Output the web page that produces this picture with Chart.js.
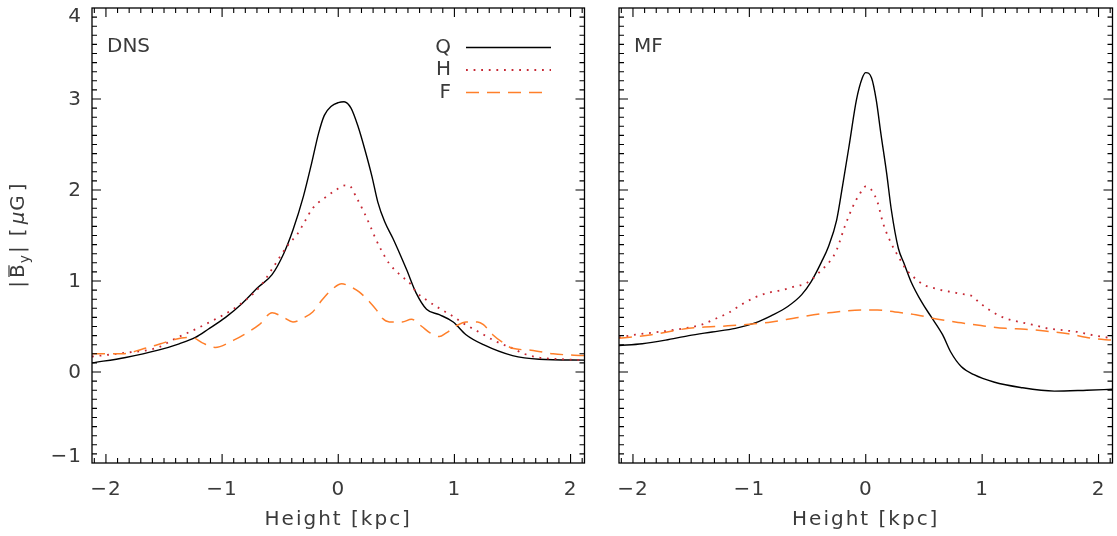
<!DOCTYPE html>
<html lang="en">
<head>
<meta charset="UTF-8">
<title>Mean field profiles: DNS and MF</title>
<script src="https://cdn.jsdelivr.net/npm/chart.js"></script>
<style>
    body { margin: 0; background: #ffffff; }
    #wrap { position: relative; width: 1117px; height: 536px; }
    canvas { position: absolute; top: 0; }
    #dns { left: 0; }
    #mf { left: 600px; }
</style>
</head>
<body>
<div id="wrap">
    <canvas id="dns" width="600" height="536"></canvas>
    <canvas id="mf" width="517" height="536"></canvas>
</div>
<script>
// axis ticks
const xTicks = [-2, -1, 0, 1, 2];
const yTicks = [-1, 0, 1, 2, 3, 4];

// DNS panel, height in kpc and |B_y| in microgauss
const dnsQx = [-2.12, -1.83, -1.55, -1.37, -1.23, -1.12, -0.97, -0.83, -0.69, -0.57, -0.47, -0.39, -0.30, -0.23, -0.17, -0.12, -0.06, 0.0, 0.05, 0.11, 0.17, 0.23, 0.29, 0.34, 0.40, 0.47, 0.54, 0.59, 0.67, 0.76, 0.87, 0.99, 1.10, 1.25, 1.50, 1.73, 2.12];
const dnsQy = [0.10, 0.16, 0.24, 0.31, 0.38, 0.47, 0.60, 0.75, 0.93, 1.07, 1.30, 1.56, 1.93, 2.29, 2.62, 2.82, 2.92, 2.96, 2.97, 2.90, 2.70, 2.44, 2.15, 1.87, 1.65, 1.47, 1.27, 1.12, 0.87, 0.69, 0.63, 0.55, 0.41, 0.30, 0.18, 0.14, 0.13];
const dnsHx = [-2.12, -1.84, -1.55, -1.43, -1.15, -0.86, -0.68, -0.54, -0.50, -0.43, -0.35, -0.29, -0.22, -0.12, -0.02, 0.06, 0.09, 0.16, 0.22, 0.27, 0.32, 0.37, 0.44, 0.53, 0.62, 0.67, 0.76, 0.87, 0.99, 1.07, 1.21, 1.35, 1.50, 1.60, 1.72, 1.93, 2.12];
const dnsHy = [0.17, 0.21, 0.27, 0.35, 0.52, 0.73, 0.93, 1.19, 1.27, 1.40, 1.52, 1.65, 1.80, 1.91, 2.00, 2.05, 2.05, 1.91, 1.76, 1.62, 1.47, 1.34, 1.19, 1.07, 0.97, 0.88, 0.79, 0.70, 0.61, 0.54, 0.44, 0.34, 0.26, 0.20, 0.16, 0.14, 0.13];
const dnsFx = [-2.12, -1.86, -1.69, -1.53, -1.40, -1.26, -1.17, -1.06, -0.90, -0.80, -0.68, -0.57, -0.47, -0.39, -0.29, -0.22, -0.14, -0.06, 0.03, 0.10, 0.18, 0.27, 0.33, 0.38, 0.44, 0.55, 0.63, 0.72, 0.79, 0.87, 0.93, 1.02, 1.10, 1.20, 1.25, 1.33, 1.42, 1.50, 1.66, 1.85, 2.12];
const dnsFy = [0.20, 0.20, 0.25, 0.31, 0.36, 0.38, 0.32, 0.27, 0.35, 0.42, 0.52, 0.65, 0.60, 0.55, 0.60, 0.66, 0.79, 0.90, 0.97, 0.94, 0.88, 0.77, 0.68, 0.59, 0.55, 0.55, 0.58, 0.50, 0.43, 0.39, 0.43, 0.51, 0.55, 0.55, 0.52, 0.41, 0.32, 0.26, 0.24, 0.20, 0.18];

// MF panel
const mfQx = [-2.12, -1.92, -1.72, -1.52, -1.32, -1.12, -0.95, -0.81, -0.67, -0.55, -0.47, -0.38, -0.32, -0.25, -0.20, -0.14, -0.08, -0.03, 0.0, 0.05, 0.09, 0.13, 0.18, 0.22, 0.28, 0.33, 0.39, 0.48, 0.56, 0.66, 0.73, 0.82, 0.93, 1.10, 1.33, 1.62, 1.90, 2.12];
const mfQy = [0.29, 0.31, 0.35, 0.40, 0.44, 0.48, 0.54, 0.62, 0.72, 0.85, 0.99, 1.21, 1.38, 1.67, 2.04, 2.51, 2.99, 3.23, 3.29, 3.23, 2.99, 2.62, 2.18, 1.78, 1.36, 1.19, 0.99, 0.77, 0.61, 0.41, 0.22, 0.06, -0.03, -0.11, -0.17, -0.21, -0.20, -0.19];
const mfHx = [-2.12, -1.98, -1.78, -1.61, -1.41, -1.30, -1.18, -1.07, -0.95, -0.84, -0.72, -0.61, -0.52, -0.47, -0.38, -0.30, -0.25, -0.18, -0.11, -0.05, 0.0, 0.05, 0.10, 0.15, 0.22, 0.28, 0.32, 0.35, 0.39, 0.45, 0.51, 0.56, 0.62, 0.68, 0.74, 0.81, 0.87, 0.92, 0.97, 1.09, 1.20, 1.32, 1.43, 1.56, 1.69, 1.82, 1.93, 2.12];
const mfHy = [0.38, 0.41, 0.44, 0.47, 0.52, 0.58, 0.65, 0.74, 0.82, 0.87, 0.90, 0.94, 0.97, 1.01, 1.12, 1.23, 1.34, 1.60, 1.82, 1.96, 2.04, 2.00, 1.87, 1.63, 1.41, 1.27, 1.18, 1.12, 1.07, 1.00, 0.95, 0.93, 0.91, 0.89, 0.88, 0.86, 0.85, 0.83, 0.77, 0.66, 0.59, 0.55, 0.52, 0.48, 0.46, 0.44, 0.41, 0.37];
const mfFx = [-2.12, -1.84, -1.52, -1.15, -0.81, -0.58, -0.32, -0.04, 0.10, 0.25, 0.43, 0.62, 0.82, 0.99, 1.20, 1.37, 1.54, 1.74, 1.94, 2.12];
const mfFy = [0.37, 0.41, 0.48, 0.51, 0.55, 0.60, 0.65, 0.68, 0.68, 0.66, 0.63, 0.58, 0.54, 0.51, 0.48, 0.47, 0.45, 0.42, 0.37, 0.35];

const FONT = '"DejaVu Sans", sans-serif';
const TXT = '#3a3a3a';

const styles = {
    Q: { borderColor: '#000000', borderWidth: 1.4, borderDash: [] },
    H: { borderColor: '#c62834', borderWidth: 1.8, borderDash: [1.8, 5.8] },
    F: { borderColor: '#ff7f2a', borderWidth: 1.5, borderDash: [13, 8] }
};

function pairs(xs, ys) {
    return xs.map((x, i) => ({ x: x, y: ys[i] }));
}

function drawYTitle(ctx, cx, cy) {
    ctx.save();
    ctx.translate(cx, cy);
    ctx.rotate(-Math.PI / 2);
    ctx.fillStyle = TXT;
    ctx.strokeStyle = TXT;
    ctx.textBaseline = 'middle';
    ctx.textAlign = 'left';
    const main = '20px ' + FONT;
    const parts = [
        { t: '|', f: main, dx: 3 },
        { t: 'B', f: main, bar: true, dx: 1 },
        { t: 'y', f: '14px ' + FONT, dy: 6, dx: 2 },
        { t: '|', f: main, dx: 10 },
        { t: '[', f: main, dx: 4 },
        { t: 'μ', f: 'italic 20px ' + FONT, dx: 1 },
        { t: 'G', f: main, dx: 4 },
        { t: ']', f: main, dx: 0 }
    ];
    let total = 0;
    parts.forEach(p => { ctx.font = p.f; p.w = ctx.measureText(p.t).width; total += p.w + p.dx; });
    let x = -total / 2;
    parts.forEach(p => {
        ctx.font = p.f;
        ctx.fillText(p.t, x, p.dy || 0);
        if (p.bar) {
            ctx.lineWidth = 1.2;
            ctx.beginPath();
            ctx.moveTo(x + 1, -10);
            ctx.lineTo(x + p.w - 1, -10);
            ctx.stroke();
        }
        x += p.w + p.dx;
    });
    ctx.restore();
}

// frame with inward ticks on every side, tick labels, titles and legend
const panelPlugin = {
    id: 'panel',
    afterDatasetsDraw(chart, args, opts) {
        const { ctx, chartArea: a, scales: { x, y } } = chart;
        ctx.save();
        ctx.strokeStyle = '#000000';
        ctx.lineWidth = 1.3;
        ctx.strokeRect(a.left, a.top, a.right - a.left, a.bottom - a.top);

        ctx.lineWidth = 1.1;
        ctx.beginPath();
        for (let i = -21; i <= 21; i++) {
            const px = x.getPixelForValue(i / 10);
            if (px <= a.left + 1 || px >= a.right - 1) continue;
            const len = i % 10 === 0 ? 9 : 5;
            ctx.moveTo(px, a.bottom); ctx.lineTo(px, a.bottom - len);
            ctx.moveTo(px, a.top); ctx.lineTo(px, a.top + len);
        }
        for (let i = -10; i <= 40; i++) {
            const py = y.getPixelForValue(i / 10);
            if (py <= a.top + 1 || py >= a.bottom - 1) continue;
            const len = i % 10 === 0 ? 9 : 5;
            ctx.moveTo(a.left, py); ctx.lineTo(a.left + len, py);
            ctx.moveTo(a.right, py); ctx.lineTo(a.right - len, py);
        }
        ctx.stroke();

        ctx.fillStyle = TXT;
        ctx.font = '20px ' + FONT;
        ctx.letterSpacing = '1px';
        ctx.textAlign = 'center';
        ctx.textBaseline = 'middle';
        xTicks.forEach(v => {
            ctx.fillText(v < 0 ? '\u2212' + Math.abs(v) : String(v), x.getPixelForValue(v), a.bottom + 27);
        });
        if (opts.showY) {
            ctx.textAlign = 'right';
            yTicks.forEach(v => {
                const py = Math.min(Math.max(y.getPixelForValue(v) + 1, a.top + 9), a.bottom - 6);
                ctx.fillText(v < 0 ? '\u2212' + Math.abs(v) : String(v), a.left - 10, py);
            });
            ctx.letterSpacing = '0px';
            drawYTitle(ctx, 19, (a.top + a.bottom) / 2);
        }

        ctx.letterSpacing = '2px';
        ctx.textAlign = 'center';
        ctx.fillText('Height [kpc]', (a.left + a.right) / 2, a.bottom + 57);

        ctx.letterSpacing = '0px';
        ctx.textAlign = 'left';
        ctx.fillText(opts.name, a.left + 15, 47);

        if (opts.legend) {
            ctx.textAlign = 'right';
            const rows = [['Q', 47.5], ['H', 70], ['F', 92.5]];
            rows.forEach(([k, ly]) => {
                ctx.fillText(k, 451, ly);
                const s = styles[k];
                ctx.strokeStyle = s.borderColor;
                ctx.lineWidth = s.borderWidth;
                ctx.setLineDash(s.borderDash);
                ctx.beginPath();
                ctx.moveTo(466, ly);
                ctx.lineTo(k === 'F' ? 548 : 551, ly);
                ctx.stroke();
            });
            ctx.setLineDash([]);
        }
        ctx.restore();
    }
};

function makePanel(id, name, q, h, f, padding, showY, legend) {
    const sets = [['F', f], ['H', h], ['Q', q]].map(([k, d]) => Object.assign({
        label: k,
        data: d,
        fill: false,
        pointRadius: 0,
        cubicInterpolationMode: 'monotone'
    }, styles[k]));
    return new Chart(document.getElementById(id), {
        type: 'line',
        data: { datasets: sets },
        options: {
            responsive: false,
            devicePixelRatio: 1,
            animation: false,
            layout: { padding: padding },
            plugins: {
                legend: { display: false },
                tooltip: { enabled: false },
                panel: { name: name, showY: showY, legend: legend }
            },
            scales: {
                x: { type: 'linear', min: -2.12, max: 2.12, display: false },
                y: { type: 'linear', min: -1, max: 4, display: false }
            }
        },
        plugins: [panelPlugin]
    });
}

makePanel('dns', 'DNS', pairs(dnsQx, dnsQy), pairs(dnsHx, dnsHy), pairs(dnsFx, dnsFy),
    { left: 92, right: 15.5, top: 8, bottom: 73 }, true, true);
makePanel('mf', 'MF', pairs(mfQx, mfQy), pairs(mfHx, mfHy), pairs(mfFx, mfFy),
    { left: 19, right: 4.5, top: 8, bottom: 73 }, false, false);
</script>
</body>
</html>
